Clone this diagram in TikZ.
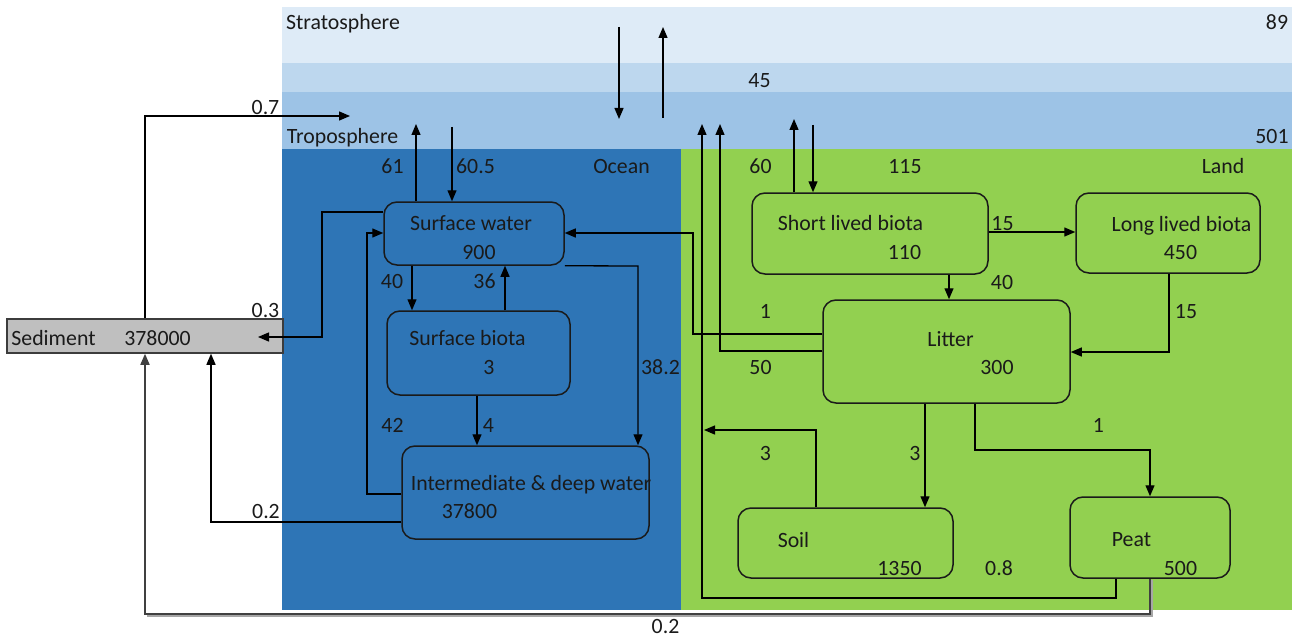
\documentclass[tikz,border=0pt]{standalone}
\usepackage{fontspec}
\setmainfont{Carlito}
\usetikzlibrary{arrows.meta}
\definecolor{strat}{HTML}{DEEBF7}
\definecolor{midb}{HTML}{BDD7EE}
\definecolor{tropc}{HTML}{9DC3E6}
\definecolor{oceanc}{HTML}{2E75B6}
\definecolor{landc}{HTML}{92D050}
\definecolor{sedc}{HTML}{BFBFBF}
\definecolor{ink}{HTML}{1A1A1A}
\definecolor{greyline}{HTML}{404040}
\definecolor{shadowc}{HTML}{A6A6A6}
\tikzset{
  lbl/.style={inner sep=0pt, text height=7pt, text depth=0pt, anchor=center,
    font=\fontsize{10.9}{13}\selectfont, text=ink},
  pool/.style={draw=ink, line width=0.75pt, rounded corners=6.5pt, inner sep=0pt},
  flow/.style={draw=black, line width=0.65pt, -{Triangle[length=5.5pt,width=4.5pt]}},
  flowg/.style={draw=greyline, line width=0.8pt, -{Triangle[length=5.5pt,width=4.5pt]}}
}
\begin{document}
\begin{tikzpicture}[x=0.5pt,y=-0.5pt]
\useasboundingbox (0,0) rectangle (1301,642);
% background layers
\fill[strat] (282,7) rectangle (1292,63);
\fill[midb] (282,63) rectangle (1292,92);
\fill[tropc] (282,92) rectangle (1292,149);
\fill[oceanc] (282,149) rectangle (681,610);
\fill[landc] (681,149) rectangle (1292,610);

% pools
\node[pool, minimum width=90pt, minimum height=31.5pt] (sw) at (474,233.5) {};
\node[pool, minimum width=91.5pt, minimum height=42pt] (sb) at (478.5,353) {};
\node[pool, minimum width=123.5pt, minimum height=46.5pt] (dw) at (525.5,492.5) {};
\node[pool, minimum width=118pt, minimum height=40.5pt] (slb) at (870,233.5) {};
\node[pool, minimum width=92pt, minimum height=40pt] (llb) at (1168,233) {};
\node[pool, minimum width=123.5pt, minimum height=51.5pt] (lit) at (946.5,351.5) {};
\node[pool, minimum width=107.5pt, minimum height=35pt] (soil) at (845.5,543) {};
\node[pool, minimum width=80pt, minimum height=40.5pt] (peat) at (1150,537.5) {};
\node[draw=ink!85, fill=sedc, line width=0.75pt, inner sep=0pt,
      minimum width=138pt, minimum height=17pt] (sed) at (145,336) {};

% free ends in the atmosphere
\coordinate (c07) at (350,116);
\coordinate (c61) at (416,124);
\coordinate (c605) at (452,127);
\coordinate (sdtop) at (619,27);
\coordinate (sdbot) at (619,119);
\coordinate (sutop) at (663,27);
\coordinate (subot) at (663,118);
\coordinate (c08) at (702,124);
\coordinate (c50) at (720,124);
\coordinate (c60) at (794,119);
\coordinate (c115) at (813,125);
\coordinate (c3a) at (704,430);
\coordinate (c03) at (258,337);

% connectors
\draw[flow] (sed.north) |- (c07);
\draw[flow] (sw.north -| 416,0) -- (c61);
\draw[flow] (c605) -- (sw.north -| 452,0);
\draw[flow] (sdtop) -- (sdbot);
\draw[flow] (subot) -- (sutop);
\draw[flow] (peat.south -| 1116,0) -- (1116,598) -| (c08);
\draw[flow] (lit.west |- 0,351) -| (c50);
\draw[flow] (lit.west |- 0,334) -| (693,233) -- (sw.east |- 0,233);
\draw[flow] (slb.north -| 794,0) -- (c60);
\draw[flow] (c115) -- (slb.north -| 813,0);
\draw[flow] (slb.east |- 0,232) -- (llb.west |- 0,232);
\draw[flow] (slb.south -| 949,0) -- (lit.north -| 949,0);
\draw[flow] (llb.south -| 1169,0) |- (lit.east |- 0,352);
\draw[flow] (lit.south -| 925,0) -- (soil.north -| 925,0);
\draw[flow] (lit.south -| 975,0) -- (975,450) -| (peat.north -| 1150,0);
\draw[flow] (soil.north -| 816,0) |- (c3a);
\draw[shadowc, line width=0.8pt] (1152,580) -- (1152,616) -- (147,616);
\draw[flowg] (peat.south) |- (145,614) -- (sed.south);
\draw[flow] (dw.west |- 0,522) -| (sed.south -| 211,0);
\draw[flow] (dw.west |- 0,494) -| (367,233) -- (sw.west |- 0,233);
\draw[flow] (sw.west |- 0,212) -| (322,337) -- (c03);
\draw[flow] (sw.south -| 412,0) -- (sb.north -| 412,0);
\draw[flow] (sb.north -| 505,0) -- (sw.south -| 505,0);
\draw[flow] (sb.south -| 477,0) -- (dw.north -| 477,0);
\draw[flow] (sw.south east) -- (638,266) -- (dw.north -| 638,0);

% layer labels
\node[lbl] (tStrat) at (343,23) {Stratosphere};
\node[lbl] (t89) at (1277,23) {89};
\node[lbl] (t45) at (759.5,81) {45};
\node[lbl] (tTrop) at (342.5,137) {Troposphere};
\node[lbl] (t501) at (1272,137) {501};
\node[lbl] (t07) at (265.5,108) {0.7};
\node[lbl] (t61) at (392.5,166) {61};
\node[lbl] (t605) at (475.5,166) {60.5};
\node[lbl] (tOcean) at (621.5,166) {Ocean};
\node[lbl] (t60) at (760.5,166) {60};
\node[lbl] (t115) at (905,166) {115};
\node[lbl] (tLand) at (1223,166) {Land};

% pool texts
\node[lbl] (tSed) at (53.5,338) {Sediment};
\node[lbl] (tSedv) at (157.5,338) {378000};
\node[lbl] (tSw) at (471,223) {Surface water};
\node[lbl] (tSwv) at (479,252) {900};
\node[lbl] (tSb) at (467.5,338) {Surface biota};
\node[lbl] (tSbv) at (489,367) {3};
\node[lbl] (tDw) at (531,483) {Intermediate \& deep water};
\node[lbl] (tDwv) at (469.5,511) {37800};
\node[lbl] (tSlb) at (850.5,223) {Short lived biota};
\node[lbl] (tSlbv) at (904.5,252) {110};
\node[lbl] (tLlb) at (1181.5,224) {Long lived biota};
\node[lbl] (tLlbv) at (1180.5,252) {450};
\node[lbl] (tLit) at (950.5,339) {Litter};
\node[lbl] (tLitv) at (997,367) {300};
\node[lbl] (tSoil) at (793.5,540) {Soil};
\node[lbl] (tSoilv) at (899.5,568) {1350};
\node[lbl] (tPeat) at (1131.5,539) {Peat};
\node[lbl] (tPeatv) at (1180.5,568) {500};

% flow labels
\node[lbl] (f03) at (265.5,310) {0.3};
\node[lbl] (f02a) at (266,511) {0.2};
\node[lbl] (f02b) at (665.5,626) {0.2};
\node[lbl] (f40a) at (392,281) {40};
\node[lbl] (f36) at (484.5,281) {36};
\node[lbl] (f382) at (660.5,367) {38.2};
\node[lbl] (f42) at (392.5,425) {42};
\node[lbl] (f4) at (488.5,425) {4};
\node[lbl] (f15a) at (1002.5,223) {15};
\node[lbl] (f40b) at (1002,282) {40};
\node[lbl] (f15b) at (1186,311) {15};
\node[lbl] (f1a) at (765.5,311) {1};
\node[lbl] (f50) at (760.5,367) {50};
\node[lbl] (f3a) at (765.5,453) {3};
\node[lbl] (f3b) at (915,453) {3};
\node[lbl] (f1b) at (1098.5,425) {1};
\node[lbl] (f08) at (999,568) {0.8};
\end{tikzpicture}
\end{document}
